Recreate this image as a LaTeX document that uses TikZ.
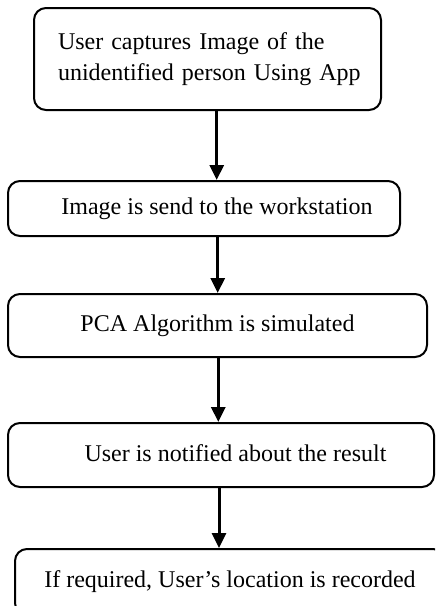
\documentclass[tikz,border=0pt]{standalone}
\usepackage{fontspec}
\setmainfont{Liberation Serif}
\usetikzlibrary{arrows.meta}
\newcommand\pxu{0.5pt}
\begin{document}
\begin{tikzpicture}[x=0.5pt,y=-0.5pt,
  flowbox/.style={draw, line width=1pt, rounded corners=6pt, inner sep=0pt,
    font=\fontsize{12pt}{15.5pt}\selectfont},
  flowarrow/.style={line width=1.5pt, -{Triangle[width=7pt,length=7.5pt]}}]
\useasboundingbox (0,0) rectangle (435,606);
\clip (0,0) rectangle (435,606);
\node[flowbox, minimum width={347*\pxu}, minimum height={102*\pxu},
  text width={323*\pxu}, inner xsep={12*\pxu}, align=left] (b1) at (207.5,59)
  {\hspace*{6pt}User captures Image of the\\\hspace*{6pt}unidentified person Using App};
\node[flowbox, minimum width={392*\pxu}, minimum height={55*\pxu}] (b2) at (204,208.5)
  {\hspace{13pt}Image is send to the workstation};
\node[flowbox, minimum width={419*\pxu}, minimum height={63*\pxu}] (b3) at (217.5,325.5)
  {\raisebox{1.5pt}{PCA Algorithm is simulated}};
\node[flowbox, minimum width={426*\pxu}, minimum height={64*\pxu}] (b4) at (221,455)
  {\hspace{14.5pt}\raisebox{2pt}{User is notified about the result}};
\node[flowbox, minimum width={430*\pxu}, minimum height={66*\pxu}] (b5) at (230,582)
  {\raisebox{1pt}{If required, User’s location is recorded}\hspace{14pt}};
\coordinate (x1) at (216.7,0);
\coordinate (x2) at (217.7,0);
\coordinate (x3) at (218.3,0);
\coordinate (x4) at (219,0);
\draw[flowarrow] (b1.south -| x1) -- (b2.north -| x1);
\draw[flowarrow] (b2.south -| x2) -- (b3.north -| x2);
\draw[flowarrow] (b3.south -| x3) -- (b4.north -| x3);
\draw[flowarrow] (b4.south -| x4) -- (b5.north -| x4);
\end{tikzpicture}
\end{document}
